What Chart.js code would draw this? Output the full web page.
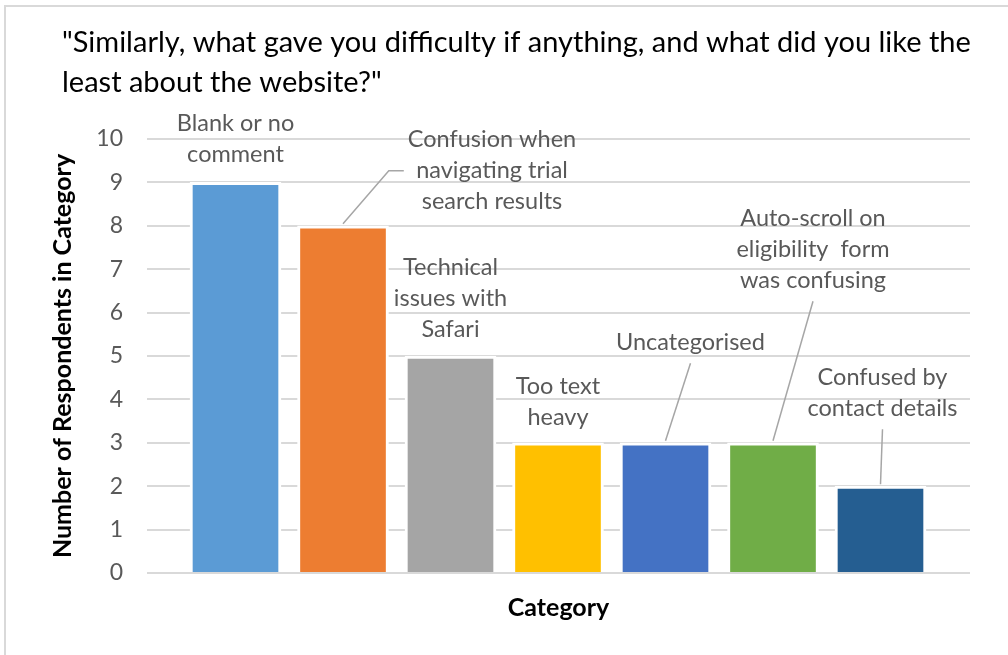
<!DOCTYPE html>
<html>
<head>
    <meta charset="utf-8">
    <title>Website difficulties</title>
    <script src="https://cdn.jsdelivr.net/npm/chart.js"></script>
    <style>
        html, body { margin: 0; padding: 0; background: #fff; }
        #frame {
            position: absolute; left: 4px; top: 5px; width: 1004px; height: 650px;
            border-left: 2px solid #d9d9d9; border-top: 2px solid #d9d9d9;
        }
        #myChart { position: absolute; left: 0; top: 0; }
    </style>
</head>
<body>
    <div id="frame"></div>
    <canvas id="myChart" width="1008" height="655"></canvas>

    <script>
        var titleLines = [
            '"Similarly, what gave you difficulty if anything, and what did you like the',
            'least about the website?"'
        ];
        // category names, already wrapped the way the labels are shown
        var categories = [
            ['Blank or no', 'comment'],
            ['Confusion when', 'navigating trial', 'search results'],
            ['Technical', 'issues with', 'Safari'],
            ['Too text', 'heavy'],
            ['Uncategorised'],
            ['Auto-scroll on', 'eligibility  form', 'was confusing'],
            ['Confused by', 'contact details']
        ];
        var respondents = [9, 8, 5, 3, 3, 3, 2];
        var barColours = ['#5b9bd5', '#ed7d31', '#a5a5a5', '#ffc000', '#4472c4', '#70ad47', '#255e91'];
        var yMin = 0, yMax = 10, yStep = 1;
        var xTitle = 'Category';
        var yTitle = 'Number of Respondents in Category';

        var FONT = 'Lato, "Open Sans", sans-serif';

        // where each data label sits, relative to the top of its bar
        var labelSpots = [
            { dx: 0, dy: -43 },
            { dx: 149, dy: -55, leader: 'left' },
            { dx: 0, dy: -58 },
            { dx: 0, dy: -41 },
            { dx: 25, dy: -100, leader: 'below' },
            { dx: 40, dy: -193, leader: 'below' },
            { dx: 2, dy: -93, leader: 'below' }
        ];

        var titlePlugin = {
            id: 'sheetTitle',
            beforeDraw: function(chart) {
                var ctx = chart.ctx;
                ctx.save();
                ctx.font = '29px ' + FONT;
                ctx.fillStyle = '#000';
                ctx.textBaseline = 'middle';
                ctx.textAlign = 'left';
                titleLines.forEach(function(line, i) {
                    ctx.fillText(line, 62, 43 + i * 40);
                });
                ctx.restore();
            }
        };

        var barLabels = {
            id: 'barLabels',
            afterDatasetsDraw: function(chart) {
                var ctx = chart.ctx;
                var meta = chart.getDatasetMeta(0);
                var lineH = 31;
                ctx.save();
                ctx.font = '23.5px ' + FONT;
                ctx.fillStyle = '#595959';
                ctx.strokeStyle = '#a6a6a6';
                ctx.lineWidth = 1.5;
                ctx.textAlign = 'center';
                ctx.textBaseline = 'middle';
                meta.data.forEach(function(bar, i) {
                    var lines = categories[i];
                    var spot = labelSpots[i];
                    var cx = bar.x + spot.dx;
                    var cy = bar.y + spot.dy;
                    var top = cy - lines.length * lineH / 2;
                    var widest = 0;
                    lines.forEach(function(t, j) {
                        widest = Math.max(widest, ctx.measureText(t).width);
                        ctx.fillText(t, cx, top + lineH * (j + 0.5));
                    });
                    if (spot.leader === 'left') {
                        var left = cx - widest / 2 - 4;
                        ctx.beginPath();
                        ctx.moveTo(bar.x, bar.y - 2);
                        ctx.lineTo(left - 15, cy);
                        ctx.lineTo(left, cy);
                        ctx.stroke();
                    } else if (spot.leader === 'below') {
                        ctx.beginPath();
                        ctx.moveTo(cx, cy + lines.length * lineH / 2 + 5);
                        ctx.lineTo(bar.x, bar.y - 2);
                        ctx.stroke();
                    }
                });
                ctx.restore();
            }
        };

        var ctx = document.getElementById('myChart').getContext('2d');
        var myChart = new Chart(ctx, {
            type: 'bar',
            data: {
                labels: categories.map(function(c) { return c.join(' '); }),
                datasets: [{
                    label: yTitle,
                    data: respondents.map(function(v, i) { return { x: i, y: v }; }),
                    backgroundColor: barColours,
                    borderColor: '#ffffff',
                    borderWidth: 3,
                    borderSkipped: 'start',
                    barThickness: 91
                }]
            },
            options: {
                responsive: false,
                animation: false,
                layout: { padding: { top: 139, right: 38, bottom: 0, left: 0 } },
                plugins: {
                    legend: { display: false },
                    tooltip: { enabled: false }
                },
                scales: {
                    x: {
                        type: 'linear',
                        offset: false,
                        min: -0.8233,
                        max: 6.8326,
                        grid: { display: false, offset: false },
                        border: { display: false },
                        ticks: { display: false },
                        title: {
                            display: true,
                            text: xTitle,
                            color: '#000',
                            font: { family: FONT, size: 25, weight: 'bold' },
                            padding: { top: 0, bottom: 32 }
                        },
                        afterFit: function(scale) { scale.height = 82; }
                    },
                    y: {
                        min: yMin,
                        max: yMax,
                        ticks: {
                            stepSize: yStep,
                            color: '#595959',
                            padding: 24,
                            font: { family: FONT, size: 23 }
                        },
                        grid: { color: '#d9d9d9', lineWidth: 2, drawTicks: false },
                        border: { display: false },
                        title: {
                            display: true,
                            text: yTitle,
                            color: '#000',
                            font: { family: FONT, size: 25, weight: 'bold' },
                            padding: { top: 48, bottom: 0 }
                        },
                        afterFit: function(scale) { scale.width = 147; }
                    }
                }
            },
            plugins: [titlePlugin, barLabels]
        });
    </script>
</body>
</html>
